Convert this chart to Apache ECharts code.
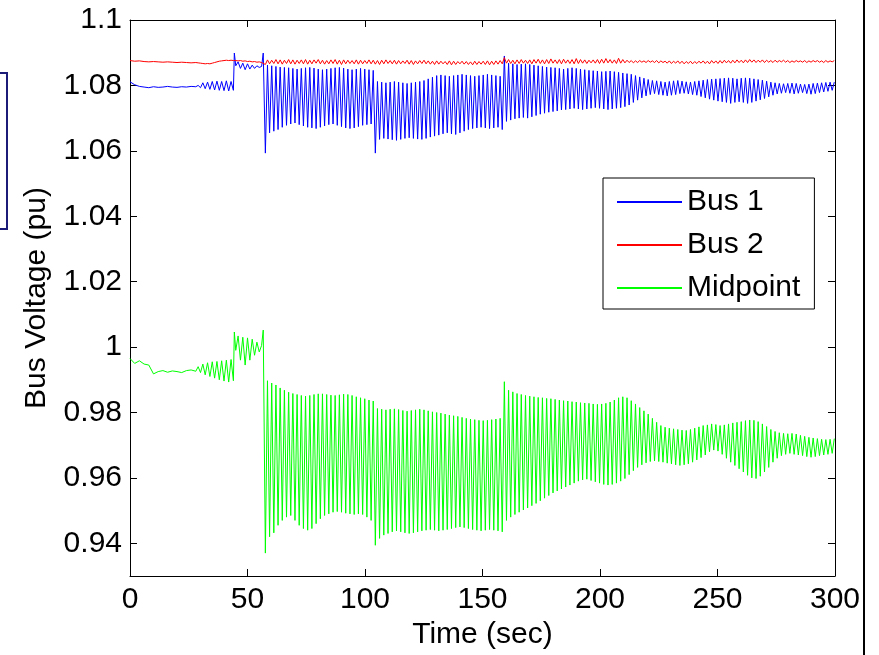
<!DOCTYPE html>
<html>
<head>
<meta charset="utf-8">
<script src="https://cdn.jsdelivr.net/npm/echarts@6/dist/echarts.min.js"></script>
<style>
html, body { margin: 0; background: #fff; }
#main { width: 879px; height: 655px; }
</style>
</head>
<body>
<div id="main"></div>
<script>
var seriesNames = ['Bus 1', 'Bus 2', 'Midpoint'];
var xTicks = [0, 50, 100, 150, 200, 250, 300];
var yTicks = [0.94, 0.96, 0.98, 1, 1.02, 1.04, 1.06, 1.08, 1.1];
var yTickLabels = ['0.94', '0.96', '0.98', '1', '1.02', '1.04', '1.06', '1.08', '1.1'];

// before the disturbance (time in sec)
var preTime = [0, 2, 4, 6, 8, 10, 12, 14, 16, 18, 20, 22, 24, 26, 28,
    29, 30, 31, 32, 33, 34, 35, 36, 37, 38, 39, 40, 41, 42, 43,
    44, 44.4, 45, 46, 47, 48, 49, 50, 51, 52, 53, 54, 55, 56, 56.7];
var preBus1 = [1.0811, 1.0802, 1.0797, 1.0795, 1.0793, 1.0796, 1.0794, 1.0795, 1.0797, 1.0795, 1.0794, 1.0796, 1.0795, 1.0797, 1.0796,
    1.0800, 1.0793, 1.0808, 1.0790, 1.0810, 1.0788, 1.0812, 1.0786, 1.0813, 1.0785, 1.0812, 1.0784, 1.0814, 1.0783, 1.0812,
    1.0785, 1.0899, 1.0860, 1.0872, 1.0852, 1.0868, 1.0848, 1.0866, 1.0850, 1.0862, 1.0852, 1.0860, 1.0855, 1.0858, 1.0899];
var preBus2 = [1.0876, 1.0874, 1.0875, 1.0873, 1.0872, 1.0873, 1.0872, 1.0871, 1.0872, 1.0871, 1.0870, 1.0871, 1.0870, 1.0869, 1.0870,
    1.0869, 1.0868, 1.0867, 1.0866, 1.0867, 1.0866, 1.0868, 1.0870, 1.0872, 1.0874, 1.0875, 1.0876, 1.0877, 1.0876, 1.0877,
    1.0876, 1.0877, 1.0876, 1.0875, 1.0876, 1.0874, 1.0875, 1.0873, 1.0874, 1.0872, 1.0873, 1.0871, 1.0872, 1.0870, 1.0868];
var preMid = [0.9965, 0.9950, 0.9958, 0.9948, 0.9945, 0.9918, 0.9925, 0.9928, 0.9923, 0.9927, 0.9925, 0.9922, 0.9928, 0.9930, 0.9926,
    0.9940, 0.9922, 0.9948, 0.9915, 0.9952, 0.9910, 0.9955, 0.9905, 0.9956, 0.9900, 0.9958, 0.9896, 0.9960, 0.9893, 0.9962,
    0.9897, 1.0046, 0.9990, 1.0034, 0.9960, 1.0030, 0.9945, 1.0028, 0.9960, 1.0024, 0.9975, 1.0015, 0.9985, 1.0005, 1.0052];

// after 57 s: one trough (Lo) and one peak (Hi) per swing
var swingStart = 57.6;
var swingPeriod = 1.8;

var bus1Lo = [1.0593,
    1.0655, 1.0660, 1.0665,
    1.0672, 1.0678, 1.0682, 1.0685,
    1.0680, 1.0676, 1.0672, 1.0670, 1.0668, 1.0672, 1.0676, 1.0680, 1.0682, 1.0678, 1.0674, 1.0670, 1.0668, 1.0670, 1.0674, 1.0678, 1.0680, 1.0682,
    1.0593,
    1.0635, 1.0638, 1.0636, 1.0634, 1.0632, 1.0635, 1.0638, 1.0640, 1.0638, 1.0636, 1.0635, 1.0638, 1.0642, 1.0645,
    1.0648, 1.0652, 1.0655, 1.0652, 1.0650, 1.0655, 1.0660, 1.0665, 1.0668, 1.0670,
    1.0672, 1.0670, 1.0668, 1.0670, 1.0672,
    1.0665,
    1.0690, 1.0694, 1.0698, 1.0700, 1.0702, 1.0700, 1.0704, 1.0708, 1.0712, 1.0715,
    1.0718, 1.0720, 1.0722, 1.0725, 1.0726, 1.0728, 1.0730, 1.0728, 1.0726, 1.0728, 1.0730, 1.0732, 1.0730, 1.0728, 1.0726, 1.0728, 1.0730, 1.0732, 1.0735,
    1.0740, 1.0748, 1.0755, 1.0762, 1.0768,
    1.0772, 1.0775, 1.0772, 1.0770, 1.0768, 1.0770, 1.0772, 1.0775, 1.0776, 1.0774, 1.0772, 1.0770, 1.0766, 1.0762, 1.0758, 1.0755, 1.0752,
    1.0750, 1.0748, 1.0745, 1.0748, 1.0750, 1.0748, 1.0745, 1.0748, 1.0752, 1.0756, 1.0760, 1.0765, 1.0770,
    1.0774, 1.0776, 1.0778, 1.0776, 1.0774, 1.0776, 1.0778, 1.0775, 1.0773, 1.0775, 1.0778, 1.0780, 1.0782, 1.0785];
var bus1Hi = [1.0862,
    1.0860, 1.0858, 1.0856, 1.0855, 1.0854, 1.0852, 1.0850, 1.0852, 1.0854, 1.0855, 1.0853, 1.0850, 1.0848, 1.0850, 1.0852, 1.0854, 1.0855, 1.0853, 1.0850, 1.0848, 1.0850, 1.0852, 1.0850, 1.0848, 1.0846,
    1.0812, 1.0810, 1.0808, 1.0810, 1.0812, 1.0810, 1.0808, 1.0806, 1.0808, 1.0810, 1.0812, 1.0815, 1.0820, 1.0825, 1.0830,
    1.0832, 1.0830, 1.0828, 1.0830, 1.0832, 1.0834, 1.0832, 1.0830, 1.0828, 1.0830, 1.0832, 1.0834, 1.0832, 1.0830, 1.0828,
    1.0890,
    1.0868, 1.0866, 1.0864, 1.0865, 1.0866, 1.0864, 1.0862, 1.0860, 1.0858, 1.0856,
    1.0855, 1.0854, 1.0852, 1.0850, 1.0852, 1.0854, 1.0852, 1.0850, 1.0848, 1.0846, 1.0845, 1.0844, 1.0842, 1.0843, 1.0844, 1.0842, 1.0840, 1.0838, 1.0836, 1.0834, 1.0830, 1.0826, 1.0822, 1.0818,
    1.0815, 1.0814, 1.0812, 1.0810, 1.0812, 1.0814, 1.0815, 1.0813, 1.0811, 1.0810, 1.0812, 1.0814, 1.0816, 1.0818, 1.0819, 1.0820, 1.0821,
    1.0822, 1.0823, 1.0822, 1.0820, 1.0822, 1.0823, 1.0822, 1.0820, 1.0818, 1.0816, 1.0813, 1.0810, 1.0808,
    1.0806, 1.0805, 1.0806, 1.0807, 1.0806, 1.0804, 1.0803, 1.0804, 1.0806, 1.0807, 1.0808, 1.0809, 1.0810, 1.0810];

var bus2Lo = [1.0864, 1.0866, 1.0867, 1.0866, 1.0865, 1.0867, 1.0866, 1.0865, 1.0867, 1.0866,
    1.0865, 1.0866, 1.0868, 1.0866, 1.0865, 1.0866, 1.0867, 1.0865, 1.0864, 1.0866,
    1.0867, 1.0866, 1.0865, 1.0866, 1.0867, 1.0866, 1.0865, 1.0864, 1.0866, 1.0867,
    1.0866, 1.0865, 1.0866, 1.0867, 1.0865, 1.0864, 1.0866, 1.0867, 1.0866, 1.0865,
    1.0864, 1.0865, 1.0866, 1.0864, 1.0863, 1.0864, 1.0866, 1.0865, 1.0864, 1.0863,
    1.0864, 1.0865, 1.0864, 1.0863, 1.0864, 1.0865, 1.0866, 1.0868, 1.0867, 1.0866,
    1.0867, 1.0868, 1.0867, 1.0866, 1.0868, 1.0867, 1.0866, 1.0867, 1.0868, 1.0867,
    1.0866, 1.0868, 1.0867, 1.0866, 1.0867, 1.0868, 1.0867, 1.0869, 1.0868, 1.0867,
    1.0868, 1.0869, 1.0868, 1.0867, 1.0868, 1.0869, 1.0870, 1.0869, 1.0870, 1.0871,
    1.0870, 1.0871, 1.0870, 1.0869, 1.0870, 1.0868, 1.0867, 1.0868, 1.0867, 1.0866,
    1.0867, 1.0866, 1.0867, 1.0868, 1.0867, 1.0866, 1.0868, 1.0867, 1.0868, 1.0869,
    1.0868, 1.0869, 1.0870, 1.0869, 1.0870, 1.0871, 1.0870, 1.0871, 1.0870, 1.0871,
    1.0870, 1.0871, 1.0872, 1.0871, 1.0870, 1.0871, 1.0872, 1.0871, 1.0870, 1.0871,
    1.0872, 1.0871, 1.0870, 1.0871, 1.0872];
var bus2Hi = [1.0878, 1.0877, 1.0879, 1.0878, 1.0877, 1.0879, 1.0878, 1.0877, 1.0878, 1.0879,
    1.0877, 1.0878, 1.0879, 1.0877, 1.0876, 1.0878, 1.0879, 1.0877, 1.0878, 1.0877,
    1.0876, 1.0878, 1.0877, 1.0876, 1.0878, 1.0877, 1.0876, 1.0877, 1.0878, 1.0876,
    1.0877, 1.0876, 1.0875, 1.0877, 1.0876, 1.0875, 1.0876, 1.0877, 1.0875, 1.0874,
    1.0875, 1.0874, 1.0873, 1.0875, 1.0874, 1.0873, 1.0874, 1.0873, 1.0872, 1.0874,
    1.0873, 1.0874, 1.0875, 1.0874, 1.0875, 1.0876, 1.0885, 1.0879, 1.0877, 1.0878,
    1.0879, 1.0877, 1.0878, 1.0879, 1.0880, 1.0878, 1.0879, 1.0881, 1.0878, 1.0879,
    1.0880, 1.0878, 1.0879, 1.0882, 1.0879, 1.0878, 1.0877, 1.0878, 1.0879, 1.0880,
    1.0882, 1.0879, 1.0878, 1.0883, 1.0879, 1.0877, 1.0876, 1.0875, 1.0876, 1.0875,
    1.0876, 1.0875, 1.0876, 1.0875, 1.0874, 1.0875, 1.0874, 1.0875, 1.0874, 1.0873,
    1.0874, 1.0873, 1.0874, 1.0875, 1.0874, 1.0876, 1.0875, 1.0876, 1.0877, 1.0876,
    1.0877, 1.0878, 1.0877, 1.0878, 1.0879, 1.0878, 1.0877, 1.0878, 1.0877, 1.0876,
    1.0877, 1.0876, 1.0877, 1.0876, 1.0875, 1.0876, 1.0875, 1.0876, 1.0875, 1.0876,
    1.0876, 1.0875, 1.0876, 1.0875, 1.0876];

var midLo = [0.9370,
    0.9420, 0.9432, 0.9455,
    0.9470, 0.9480, 0.9485, 0.9470,
    0.9455, 0.9445, 0.9440, 0.9445, 0.9460,
    0.9475, 0.9485, 0.9490, 0.9495, 0.9497, 0.9495, 0.9492, 0.9490, 0.9488, 0.9490, 0.9488, 0.9480, 0.9470,
    0.9394,
    0.9415, 0.9425, 0.9430, 0.9435, 0.9438, 0.9435, 0.9432, 0.9430, 0.9432, 0.9435, 0.9438, 0.9440, 0.9442, 0.9440,
    0.9438, 0.9440, 0.9442, 0.9445, 0.9448, 0.9450, 0.9448, 0.9445, 0.9442, 0.9440, 0.9438, 0.9440, 0.9442, 0.9440, 0.9438,
    0.9435,
    0.9470, 0.9480, 0.9488, 0.9495, 0.9502, 0.9508, 0.9515, 0.9522, 0.9530, 0.9538,
    0.9546, 0.9554, 0.9560, 0.9566, 0.9572, 0.9578, 0.9584, 0.9590, 0.9594, 0.9596,
    0.9592, 0.9588, 0.9584, 0.9580, 0.9578, 0.9580, 0.9584, 0.9590, 0.9598,
    0.9610, 0.9622, 0.9632, 0.9640, 0.9646,
    0.9650, 0.9652, 0.9650, 0.9648, 0.9645, 0.9643, 0.9640, 0.9638, 0.9640, 0.9643, 0.9648, 0.9655, 0.9662, 0.9670,
    0.9680, 0.9685, 0.9682,
    0.9672, 0.9660, 0.9648, 0.9638, 0.9628, 0.9618, 0.9608, 0.9600, 0.9598, 0.9605, 0.9618, 0.9632, 0.9648,
    0.9660, 0.9668, 0.9672, 0.9675, 0.9672, 0.9670, 0.9668, 0.9665, 0.9663, 0.9665, 0.9668, 0.9670, 0.9672, 0.9675];
var midHi = [0.9897, 0.9890, 0.9884, 0.9875,
    0.9868, 0.9862, 0.9858, 0.9855, 0.9852, 0.9850, 0.9852, 0.9855, 0.9857,
    0.9857, 0.9855, 0.9853, 0.9852, 0.9854, 0.9856, 0.9855, 0.9852, 0.9848, 0.9845, 0.9842, 0.9838, 0.9835,
    0.9812, 0.9810, 0.9808, 0.9810, 0.9811, 0.9809, 0.9806, 0.9804, 0.9806, 0.9808, 0.9810, 0.9808, 0.9805, 0.9802, 0.9800,
    0.9798, 0.9795, 0.9792, 0.9790, 0.9788, 0.9785, 0.9782, 0.9780, 0.9778, 0.9776, 0.9775, 0.9776, 0.9778, 0.9780, 0.9782,
    0.9894,
    0.9868, 0.9863, 0.9858, 0.9855, 0.9852, 0.9850, 0.9848, 0.9846, 0.9845, 0.9843,
    0.9842, 0.9840, 0.9838, 0.9836, 0.9835, 0.9833, 0.9832, 0.9830, 0.9829, 0.9828, 0.9826, 0.9825, 0.9826, 0.9828, 0.9832, 0.9838, 0.9845, 0.9848, 0.9845,
    0.9836, 0.9826, 0.9815, 0.9805, 0.9795,
    0.9782, 0.9770, 0.9760, 0.9755, 0.9752, 0.9750, 0.9748, 0.9746, 0.9745, 0.9748, 0.9752, 0.9756, 0.9760, 0.9762, 0.9765, 0.9763, 0.9760,
    0.9762, 0.9765, 0.9768, 0.9770, 0.9772, 0.9775, 0.9777, 0.9776, 0.9772, 0.9765, 0.9757, 0.9748, 0.9742,
    0.9738, 0.9736, 0.9735, 0.9736, 0.9734, 0.9730, 0.9727, 0.9724, 0.9722, 0.9720, 0.9718, 0.9717, 0.9718, 0.9720];

var font = 'Liberation Sans, Arial, Helvetica, sans-serif';

function buildLine(pre, lo, hi) {
    var pts = [];
    for (var i = 0; i < preTime.length; i++) {
        pts.push([preTime[i], pre[i]]);
    }
    var n = Math.min(lo.length, hi.length);
    for (var j = 0; j < n; j++) {
        var t = swingStart + j * swingPeriod;
        pts.push([t, lo[j]]);
        pts.push([t + swingPeriod / 2, hi[j]]);
    }
    return pts;
}

function yLabel(v) {
    for (var k = 0; k < yTicks.length; k++) {
        if (Math.abs(yTicks[k] - v) < 1e-6) return yTickLabels[k];
    }
    return '';
}

var myChart = echarts.init(document.getElementById('main'));

var axisLineStyle = { color: '#000', width: 1 };

var option = {
    animation: false,
    backgroundColor: '#fff',
    grid: { left: 130, top: 20, width: 705, height: 558 },
    legend: {
        orient: 'vertical',
        left: 603,
        top: 178,
        itemWidth: 65,
        itemHeight: 30,
        itemGap: 13,
        padding: [9, 14, 6, 13],
        borderColor: '#000',
        borderWidth: 1,
        backgroundColor: '#fff',
        itemStyle: { opacity: 0 },   // line only, no marker
        textStyle: { fontSize: 30, color: '#000', fontFamily: font },
        data: seriesNames
    },
    xAxis: [
        {
            type: 'value', min: 0, max: 300, interval: 50, position: 'bottom',
            name: 'Time (sec)', nameLocation: 'middle', nameGap: 44,
            nameTextStyle: { fontSize: 30, color: '#000', fontFamily: font },
            axisLine: { onZero: false, lineStyle: axisLineStyle },
            axisTick: { inside: true, length: 7, lineStyle: axisLineStyle },
            axisLabel: { fontSize: 30, color: '#000', fontFamily: font, margin: 9 },
            splitLine: { show: false }
        },
        {
            type: 'value', min: 0, max: 300, interval: 50, position: 'top',
            axisLine: { onZero: false, lineStyle: axisLineStyle },
            axisTick: { inside: true, length: 7, lineStyle: axisLineStyle },
            axisLabel: { show: false },
            splitLine: { show: false }
        }
    ],
    yAxis: [
        {
            type: 'value', min: 0.93, max: 1.1, position: 'left',
            name: 'Bus Voltage (pu)', nameLocation: 'middle', nameGap: 78,
            nameTextStyle: { fontSize: 30, color: '#000', fontFamily: font },
            axisLine: { show: true, onZero: false, lineStyle: axisLineStyle },
            axisTick: { show: true, inside: true, length: 7, lineStyle: axisLineStyle, customValues: yTicks },
            axisLabel: { fontSize: 30, color: '#000', fontFamily: font, margin: 8, customValues: yTicks, formatter: yLabel },
            splitLine: { show: false }
        },
        {
            type: 'value', min: 0.93, max: 1.1, position: 'right',
            axisLine: { show: true, onZero: false, lineStyle: axisLineStyle },
            axisTick: { show: true, inside: true, length: 7, lineStyle: axisLineStyle, customValues: yTicks },
            axisLabel: { show: false, customValues: yTicks },
            splitLine: { show: false }
        }
    ],
    graphic: [
        { type: 'rect', shape: { x: -10, y: 73, width: 17, height: 156 }, style: { fill: 'none', stroke: '#1c1c78', lineWidth: 2 } },
        { type: 'line', shape: { x1: 864, y1: 0, x2: 864, y2: 655 }, style: { stroke: '#000', lineWidth: 2 } }
    ],
    series: [
        {
            name: seriesNames[0], type: 'line', symbol: 'none', showSymbol: false,
            lineStyle: { color: '#0000ff', width: 1 }, itemStyle: { color: '#0000ff' },
            data: buildLine(preBus1, bus1Lo, bus1Hi)
        },
        {
            name: seriesNames[1], type: 'line', symbol: 'none', showSymbol: false,
            lineStyle: { color: '#ff0000', width: 1 }, itemStyle: { color: '#ff0000' },
            data: buildLine(preBus2, bus2Lo, bus2Hi)
        },
        {
            name: seriesNames[2], type: 'line', symbol: 'none', showSymbol: false,
            lineStyle: { color: '#00ff00', width: 1 }, itemStyle: { color: '#00ff00' },
            data: buildLine(preMid, midLo, midHi)
        }
    ]
};

myChart.setOption(option);
</script>
</body>
</html>
